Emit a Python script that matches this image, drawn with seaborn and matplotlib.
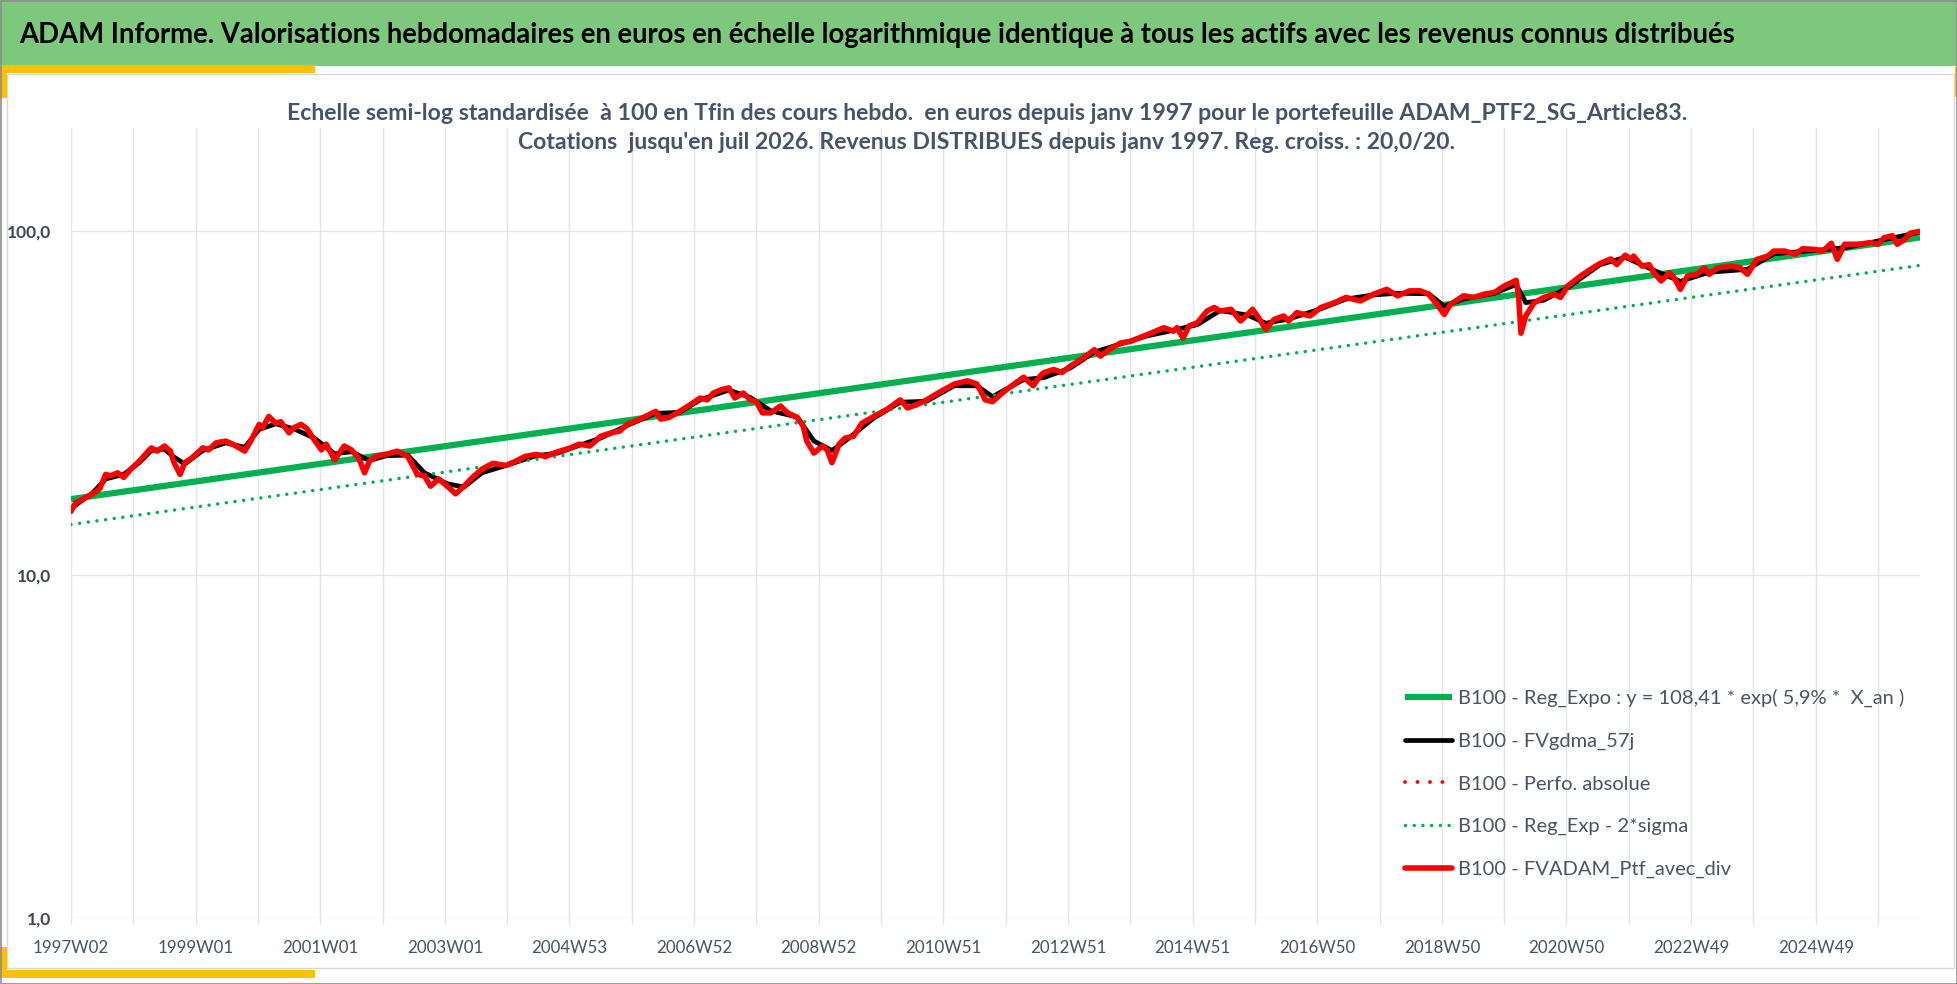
import matplotlib
matplotlib.use("Agg")
import matplotlib.pyplot as plt
from matplotlib.patches import Rectangle
from matplotlib.lines import Line2D
import seaborn as sns

# weeks counted from 1997W02 (index 0), values in base 100 at the end
ptf_weeks = [0, 4, 10, 18, 24, 29, 33, 39, 44, 50, 57, 63, 67, 72, 78, 83, 86, 91, 95, 101,
             110, 115, 121, 129, 135, 145, 150, 157, 160, 165, 171, 175, 182, 186, 192, 197,
             203, 209, 213, 220, 228, 234, 240, 245, 249, 254, 263, 272, 281, 289, 295, 300,
             307, 314, 321, 328, 335, 343, 352, 363, 371, 379, 388, 396,
             406, 417, 424, 433, 442, 451, 458, 464, 475, 488, 492, 499, 508, 517, 525, 531,
             536, 543, 549, 554, 561, 567, 572, 577, 584, 592, 598, 606, 611, 614, 620, 627,
             631, 635, 641, 646, 653, 660, 670, 681, 692, 698, 706, 714, 726, 737, 748, 756,
             763, 769, 777, 787, 795, 803, 809,
             812, 820, 827, 834, 845, 854, 859, 866, 876, 884, 891, 898, 912, 920, 923, 928,
             933, 940, 948, 954, 959, 968, 976, 982, 986, 991, 997, 1004, 1012, 1016, 1023,
             1034, 1043, 1054, 1064, 1076, 1087, 1098, 1107, 1117, 1126, 1133, 1140, 1146,
             1151, 1162, 1171, 1179, 1188, 1196, 1206,
             1208, 1210, 1214, 1221, 1229, 1238, 1243, 1249, 1260, 1270, 1276, 1285, 1290,
             1297, 1302, 1304, 1311, 1317, 1321, 1327, 1334, 1338, 1343, 1349, 1357, 1363,
             1367, 1374, 1385, 1393, 1399, 1407, 1416, 1421, 1430, 1439, 1445, 1455, 1462,
             1469, 1474, 1480, 1491, 1502, 1508, 1513, 1520, 1524, 1530, 1535, 1543]
ptf_values = [15.3, 16.2, 16.6, 17.2, 17.8, 19.6, 19.4, 19.8, 19.2, 20.3, 21.4, 22.6, 23.4, 22.9,
              23.7, 22.9, 21.2, 19.6, 21.2, 21.9, 23.4, 23.1, 24.2, 24.5, 24.0, 22.9, 24.5, 27.4,
              26.8, 28.9, 27.6, 27.9, 25.9, 26.8, 27.4, 26.6, 24.7, 23.1, 24.0, 21.6, 23.7, 23.1,
              21.9, 19.8, 21.4, 22.1, 22.4, 22.9, 22.1, 19.6, 19.4, 18.1, 19.0, 18.1, 17.2, 18.1,
              19.2, 20.3, 21.1, 20.8, 21.4, 22.1, 22.4, 22.1,
              22.8, 23.4, 24.0, 23.7, 25.3, 25.9, 26.2, 27.4, 28.4, 29.9, 28.4, 28.7, 29.9, 31.3,
              32.7, 32.3, 33.8, 34.6, 35.0, 32.7, 33.8, 32.3, 31.9, 29.6, 29.6, 31.0, 29.6, 28.7,
              27.1, 24.5, 22.6, 23.7, 23.1, 21.2, 24.0, 25.0, 25.3, 27.6, 28.9, 30.3, 32.3, 30.6,
              31.3, 32.3, 34.2, 35.9, 36.7, 35.9, 32.3, 31.9, 33.8, 35.9, 37.6, 35.5, 38.0,
              38.8, 39.6, 38.8, 40.5, 42.8, 45.2, 43.3, 45.2, 47.3, 47.8, 48.9, 50.0, 52.4, 51.2,
              52.4, 48.9, 53.0, 54.2, 58.6, 60.0, 58.6, 59.3, 54.8, 57.3, 59.3, 56.1, 51.8, 55.4,
              56.7, 54.8, 58.0, 56.7, 60.0, 61.9, 64.2, 62.7, 65.6, 67.8, 64.9, 67.1, 67.1, 65.6,
              61.2, 57.3, 61.2, 64.9, 64.2, 65.6, 66.4, 69.3, 72.0,
              64.9, 50.5, 56.7, 61.9, 64.2, 65.6, 64.2, 69.3, 74.2, 78.3, 80.6, 83.1, 80.0, 85.2,
              82.9, 84.7, 79.2, 80.0, 75.7, 71.7, 75.7, 73.2, 67.8, 74.2, 75.0, 78.3, 75.0, 78.3,
              79.2, 78.3, 75.0, 82.9, 84.7, 87.6, 87.6, 85.8, 89.0, 88.6, 87.6, 92.3, 82.9, 91.7,
              91.7, 92.7, 91.7, 95.8, 97.1, 91.7, 94.6, 98.8, 100.0]

# smoothed series (FVgdma_57j), visible mainly where it leaves the red line
ma_weeks = [0, 18, 29, 44, 57, 67, 78, 86, 95, 110, 129, 145, 157, 171, 186, 203, 220, 234,
            249, 263, 281, 295, 314, 328, 343, 363, 388, 406, 424, 442, 464, 488, 508, 525,
            549, 567, 584, 606, 620, 635, 646, 670, 692, 714, 737, 756, 769, 795, 812, 834,
            854, 876, 898, 920, 940, 959, 982, 997, 1016, 1043, 1064, 1087, 1107, 1133, 1146,
            1162, 1188, 1206, 1214, 1229, 1249, 1276, 1297, 1321, 1343, 1367, 1399, 1421,
            1455, 1480, 1513, 1543]
ma_values = [15.6, 17.3, 19.0, 19.6, 21.2, 23.0, 23.2, 22.0, 21.0, 23.0, 24.2, 23.5, 26.5, 27.5,
             26.6, 25.0, 22.5, 22.8, 21.5, 22.2, 22.3, 19.8, 18.4, 18.0, 19.8, 20.8, 22.2, 22.6,
             23.8, 25.0, 27.2, 29.5, 29.7, 32.3, 34.5, 32.8, 30.0, 28.8, 24.5, 23.0, 24.5, 28.6,
             31.8, 32.0, 35.5, 35.5, 33.0, 37.0, 37.5, 40.0, 44.5, 47.0, 49.6, 51.5, 53.5, 58.8,
             57.0, 54.0, 55.5, 59.5, 63.5, 65.3, 66.0, 65.8, 60.5, 63.5, 66.0, 70.0, 62.0, 63.0,
             68.5, 80.0, 84.0, 77.0, 71.5, 76.0, 77.5, 86.0, 88.0, 89.5, 94.5, 99.5]

# exponential regression and regression - 2 sigma (start / end values read on the chart)
reg_weeks = [0, 1543]
reg_values = [16.6, 96.0]
sigma_values = [14.0, 79.6]

tick_labels = ["1997W02", "1999W01", "2001W01", "2003W01", "2004W53", "2006W52", "2008W52",
               "2010W51", "2012W51", "2014W51", "2016W50", "2018W50", "2020W50", "2022W49",
               "2024W49"]
tick_weeks = [104 * i for i in range(len(tick_labels))]
grid_weeks = [52 * i for i in range(30)]

title = ("ADAM Informe. Valorisations hebdomadaires en euros en échelle logarithmique "
         "identique à tous les actifs avec les revenus connus distribués")
subtitle = ("Echelle semi-log standardisée  à 100 en Tfin des cours hebdo.  en euros depuis janv 1997 "
            "pour le portefeuille ADAM_PTF2_SG_Article83.\n"
            "Cotations  jusqu'en juil 2026. Revenus DISTRIBUES depuis janv 1997. Reg. croiss. : 20,0/20.")

sns.set_theme(style="white")
plt.rcParams["font.family"] = ["Lato", "DejaVu Sans"]

W, H = 1958, 984
fig = plt.figure(figsize=(W / 100, H / 100), dpi=100)
fig.patch.set_facecolor("white")

def fx(px):
    return px / W

def fy(py):
    return 1 - py / H

def rect(x0, y0, x1, y1, color, z=0, fill=True, lw=0, ec=None):
    r = Rectangle((fx(x0), fy(y1)), fx(x1) - fx(x0), fy(y0) - fy(y1), transform=fig.transFigure,
                  facecolor=color if fill else "none", edgecolor=ec if ec else "none", lw=lw, zorder=z)
    fig.add_artist(r)

# frame decoration
rect(0, 0, W, 66, "#7DC87D")
rect(7, 74, W - 4, 968, "white", fill=False, lw=1, ec="#D9D9D9")
rect(0, 65, 315, 73, "#FFC000", z=3)
rect(0, 65, 7, 98, "#FFC000", z=3)
rect(0, 970, 315, 978, "#FFC000", z=3)
rect(0, 947, 7, 978, "#FFC000", z=3)
rect(W - 3, 67, W, 97, "#FFC000", z=3)
rect(0.5, 0.5, W - 0.5, H - 0.5, "white", fill=False, lw=1.2, ec="#8C8C8C", z=4)

fig.text(fx(19), fy(35), title, ha="left", va="center", fontsize=19.8, fontweight="bold", color="black")
fig.text(fx(987), fy(128), subtitle, ha="center", va="center", fontsize=16.6, fontweight="bold",
         color="#44546A", linespacing=1.5)

ax = fig.add_axes([fx(71), fy(918), fx(1920) - fx(71), fy(128) - fy(918)])
ax.set_facecolor("none")

green = "#00B050"
red = "#FF0000"
sns.lineplot(x=reg_weeks, y=reg_values, ax=ax, color=green, linewidth=4.5,
             solid_capstyle="butt", label="B100 - Reg_Expo : y = 108,41 * exp( 5,9% *  X_an )")
sns.lineplot(x=ma_weeks, y=ma_values, ax=ax, color="black", linewidth=3.4,
             label="B100 - FVgdma_57j")
sns.lineplot(x=ptf_weeks, y=ptf_values, ax=ax, color=red, linewidth=2.8,
             linestyle=(0, (0.01, 3.2)), dash_capstyle="round", label="B100 - Perfo. absolue")
sns.lineplot(x=reg_weeks, y=sigma_values, ax=ax, color=green, linewidth=2.5,
             linestyle=(0, (0.01, 2.5)), dash_capstyle="round", label="B100 - Reg_Exp - 2*sigma")
sns.lineplot(x=ptf_weeks, y=ptf_values, ax=ax, color=red, linewidth=4.0,
             solid_joinstyle="round", label="B100 - FVADAM_Ptf_avec_div")

ax.set_yscale("log")
ax.set_ylim(1, 200)
ax.set_xlim(0, 1543)
ax.set_yticks([1, 10, 100])
ax.set_yticklabels(["1,0", "10,0", "100,0"])
ax.minorticks_off()
ax.set_xticks(tick_weeks)
ax.set_xticklabels(tick_labels)
ax.set_xlabel("")
ax.set_ylabel("")

grid_c = "#E1E4EB"
for w in grid_weeks:
    if w <= 1543:
        ax.axvline(w, color=grid_c, lw=1.0, zorder=0)
for v in [1, 10, 100]:
    ax.axhline(v, color=grid_c, lw=1.0, zorder=0)
for w in grid_weeks:
    if w <= 1543:
        ax.add_line(Line2D([w, w], [0, -0.008], transform=ax.get_xaxis_transform(),
                           color=grid_c, lw=1.0, clip_on=False))

for s in ax.spines.values():
    s.set_visible(False)
ax.tick_params(axis="x", length=0, pad=16, labelsize=12.2, labelcolor="#44546A")
ax.tick_params(axis="y", length=0, pad=14, labelsize=12.5, labelcolor="#3F4756")
for t in ax.get_yticklabels():
    t.set_fontweight("bold")

leg = ax.legend(loc="upper left", bbox_to_anchor=(fx(1405), fy(689)), bbox_transform=fig.transFigure,
                frameon=False, fontsize=14.5, handlelength=2.35, handletextpad=0.3,
                labelspacing=1.26, borderaxespad=0, borderpad=0)
for t in leg.get_texts():
    t.set_color("#4A5466")

fig.savefig("out.png", dpi=100)
